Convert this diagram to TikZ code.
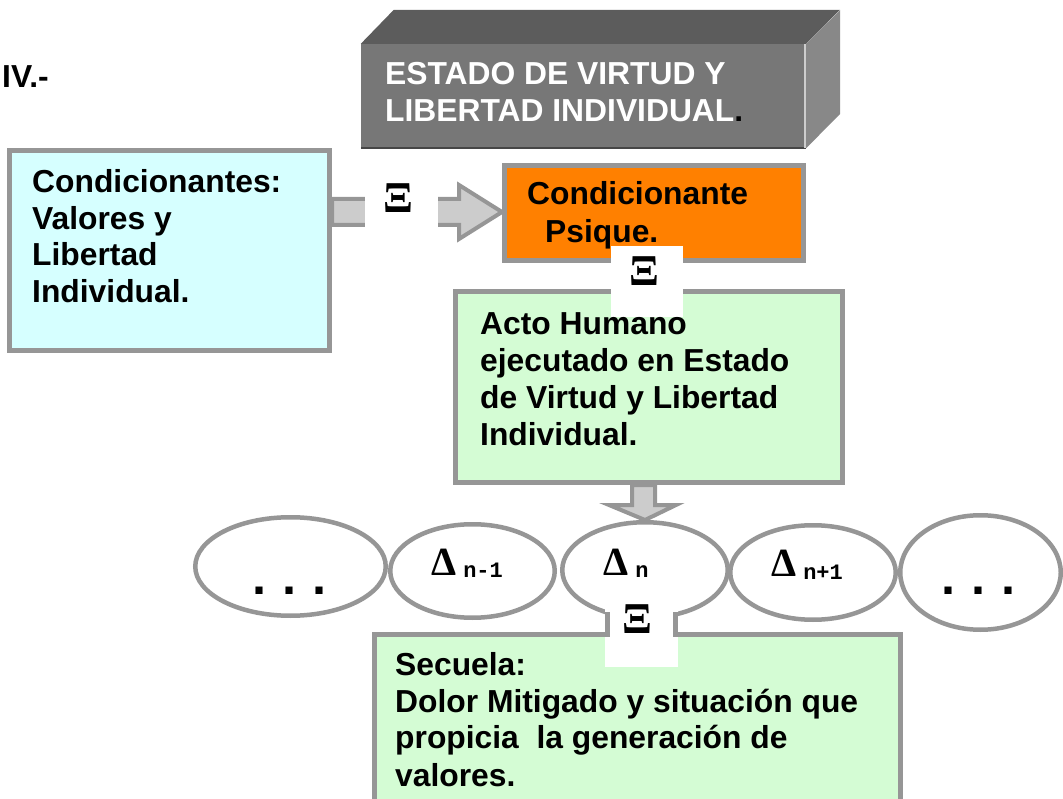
\documentclass[tikz,border=0pt]{standalone}
\usepackage{fontspec}
\setmainfont{Liberation Sans}
\newfontfamily\serifb{Liberation Serif}
\newfontfamily\monob{Liberation Mono}
\usetikzlibrary{shapes.geometric,backgrounds}
\definecolor{bordergray}{RGB}{150,150,150}
\definecolor{arrowfill}{RGB}{204,204,204}
\definecolor{cyanfill}{RGB}{214,255,255}
\definecolor{greenfill}{RGB}{212,252,212}
\definecolor{orangefill}{RGB}{255,128,0}
\definecolor{frontgray}{RGB}{119,119,119}
\definecolor{topgray}{RGB}{92,92,92}
\definecolor{sidegray}{RGB}{136,136,136}
\begin{document}
\begin{tikzpicture}[x=1pt,y=-1pt,
  box/.style={draw=bordergray, line width=5pt, rectangle, inner sep=0pt},
  oval/.style={draw=bordergray, line width=4.5pt, ellipse, inner sep=0pt, fill=white},
  txt/.style={anchor=base west, inner sep=0pt, font=\bfseries\fontsize{31.8}{37}\selectfont},
  xi/.style={inner sep=0pt, font=\serifb\bfseries\fontsize{44}{44}\selectfont},
  delta/.style={anchor=base west, inner sep=0pt, font=\serifb\bfseries\fontsize{40}{40}\selectfont},
  dots/.style={anchor=base, inner sep=0pt, font=\monob\bfseries\fontsize{50}{50}\selectfont},
  blockarrow/.style={draw=bordergray, fill=arrowfill, line width=4pt, line join=miter},
  sidebar/.style={draw=bordergray, line width=4.5pt}
]
\useasboundingbox (0,0) rectangle (1063,799);
\clip (0,0) rectangle (1063,799);

% 3D box
\node[rectangle, fill=frontgray, inner sep=0pt, minimum width=445pt, minimum height=104pt] (s1) at (583.5,96) {};
\fill[topgray] (s1.north west) -- ++(33,-34) -- ++(446,0) -- (s1.north east) -- cycle;
\fill[sidegray] (s1.north east) -- ++(34,-34) -- ++(0,104) -- (s1.south east) -- cycle;
\draw[line width=1.5pt, color={rgb,255:red,70;green,70;blue,70}] (s1.south west) -- (s1.south east);
\draw[line width=1.5pt, color={rgb,255:red,205;green,205;blue,205}] ([xshift=-1pt]s1.north east) -- ([xshift=-1pt]s1.south east);
\node[txt, text=white] (t1a) at (385,85) {ESTADO DE VIRTUD Y};
\node[txt, text=white] (t1b) at (385,122) {LIBERTAD INDIVIDUAL\textcolor{black}{.}};

\node[txt] (iv) at (2,88) {IV.-};

% boxes
\node[box, fill=cyanfill, minimum width=320pt, minimum height=200pt] (c1) at (169.5,250.5) {};
\node[box, fill=orangefill, minimum width=299pt, minimum height=95pt] (o1) at (654,213) {};
\node[box, fill=greenfill, minimum width=387pt, minimum height=191pt] (g1) at (649,387) {};
\node[box, fill=greenfill, minimum width=526pt, minimum height=181pt] (g2) at (637.5,725) {};

% ellipses
\node[oval, minimum width=190.5pt, minimum height=98.5pt] (e1) at (290.5,566.5) {};
\node[oval, minimum width=164.5pt, minimum height=93.5pt] (e2) at (472.5,571) {};
\node[oval, minimum width=165.5pt, minimum height=95.5pt] (e3) at (645,570) {};
\node[oval, minimum width=165.5pt, minimum height=94.5pt] (e4) at (813,572.5) {};
\node[oval, minimum width=160.5pt, minimum height=114.5pt] (e5) at (980.5,572.5) {};

% arrows
\begin{pgfonlayer}{background}
\draw[blockarrow] (c1.east |- 0,199) -- (459,199) -- (459,185) -- (o1.west |- 0,212) -- (459,239) -- (459,225) -- (c1.east |- 0,225) -- cycle;
\draw[blockarrow] (632,0 |- g1.south) -- (632,505) -- (609,505) -- (e3.north) -- (676,505) -- (655,505) -- (655,0 |- g1.south) -- cycle;
\end{pgfonlayer}

% white patches with Xi
\fill[white] (365,178) rectangle (438,246);
\node[xi] (x1) at (398,198) {Ξ};
\fill[white] (611,246) rectangle (683,317);
\node[xi] (x2) at (644,271) {Ξ};
\fill[white] (605,600) rectangle (678,667);
\coordinate (l1) at (607.5,612);
\coordinate (l2) at (675.5,612);
\draw[sidebar] (l1) -- (l1 |- 0,636.75);
\draw[sidebar] (l2) -- (l2 |- 0,636.75);
\node[xi] (x3) at (637.5,619.5) {Ξ};

% texts
\node[txt] (c1a) at (32,193) {Condicionantes:};
\node[txt] (c1b) at (32,229.5) {Valores y};
\node[txt] (c1c) at (32,266) {Libertad};
\node[txt] (c1d) at (32,302.5) {Individual.};

\node[txt] (o1a) at (527,205) {Condicionante};
\node[txt] (o1b) at (545,243) {Psique.};

\node[txt] (g1a) at (480,335) {Acto Humano};
\node[txt] (g1b) at (480,371.5) {ejecutado en Estado};
\node[txt] (g1c) at (480,408.5) {de Virtud y Libertad};
\node[txt] (g1d) at (480,446) {Individual.};

\node[txt] (g2a) at (395,675) {Secuela:};
\node[txt] (g2b) at (395,712) {Dolor Mitigado y situación que};
\node[txt] (g2c) at (395,748.5) {propicia\ \ la generación de};
\node[txt] (g2d) at (395,786) {valores.};

% ellipse labels
\node[dots] (d1) at (290,594) {...};
\node[dots] (d5) at (978,594) {...};
\node[delta] (dn1) at (431,575) {Δ\hspace{7pt}\raisebox{-2.5pt}{\monob\fontsize{22}{22}\selectfont n-1}};
\node[delta] (dn) at (603,575) {Δ\hspace{7pt}\raisebox{-2pt}{\monob\fontsize{22}{22}\selectfont n}};
\node[delta] (dn2) at (771,576) {Δ\hspace{7pt}\raisebox{-3pt}{\monob\fontsize{22}{22}\selectfont n+1}};
\end{tikzpicture}
\end{document}
